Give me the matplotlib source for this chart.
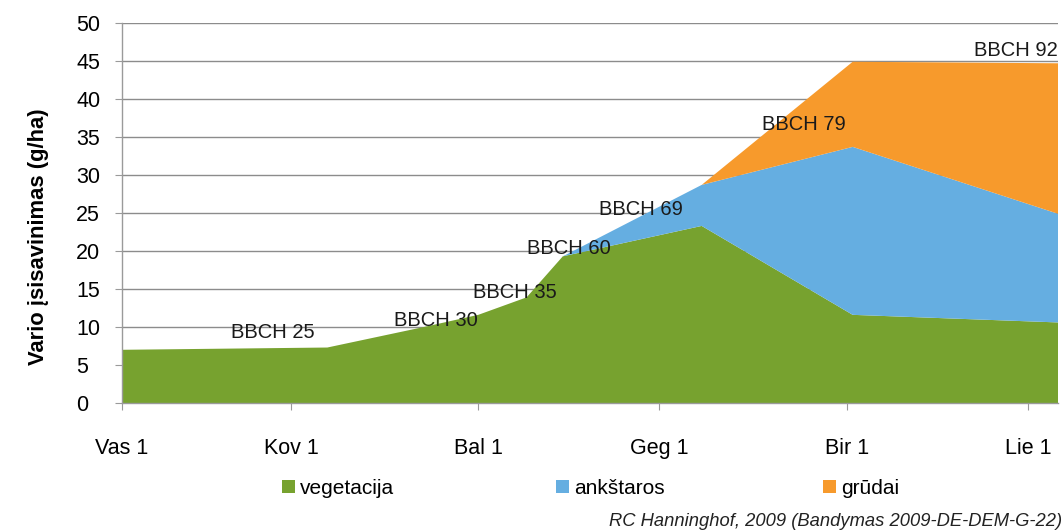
import matplotlib
matplotlib.use("Agg")
import matplotlib.pyplot as plt
import matplotlib.dates as mdates
import numpy as np
from matplotlib.patches import Patch

plt.rcParams["font.family"] = ["Liberation Sans", "DejaVu Sans"]

# data (g/ha, per stage, stacked)
dates = np.array(["2009-02-01", "2009-03-07", "2009-03-23", "2009-04-01", "2009-04-09",
                  "2009-04-15", "2009-05-08", "2009-06-02", "2009-07-06"], dtype="datetime64[D]")
vegetacija = [7.0, 7.3, 10.0, 11.6, 13.9, 19.3, 23.3, 11.6, 10.6]
ankstaros = [0, 0, 0, 0, 0, 0, 5.4, 22.1, 14.3]
grudai = [0, 0, 0, 0, 0, 0, 0, 11.2, 19.8]
series_names = ["vegetacija", "ankštaros", "grūdai"]
colors = ["#77A22F", "#65AEE1", "#F79A2C"]

tick_dates = np.array(["2009-02-01", "2009-03-01", "2009-04-01", "2009-05-01",
                       "2009-06-01", "2009-07-01"], dtype="datetime64[D]")
tick_labels = ["Vas 1", "Kov 1", "Bal 1", "Geg 1", "Bir 1", "Lie 1"]

bbch_labels = ["BBCH 25", "BBCH 30", "BBCH 35", "BBCH 60", "BBCH 69", "BBCH 79", "BBCH 92"]
bbch_dates = np.array(["2009-02-26", "2009-03-25", "2009-04-07", "2009-04-16",
                       "2009-04-28", "2009-05-25", "2009-06-29"], dtype="datetime64[D]")
bbch_values = [9.3, 10.9, 14.6, 20.3, 25.4, 36.7, 46.4]

fig = plt.figure(figsize=(10.64, 5.32), dpi=100)
ax = fig.add_axes([122 / 1064, 1 - 403 / 532, (1058 - 122) / 1064, 380 / 532])

x = mdates.date2num(dates)
ax.stackplot(x, vegetacija, ankstaros, grudai, colors=colors, linewidth=0, zorder=2)

ax.set_xlim(x[0], x[-1])
ax.set_ylim(0, 50)
ax.set_yticks(np.arange(0, 51, 5))
ax.set_xticks(mdates.date2num(tick_dates))
ax.set_xticklabels(tick_labels)

ax.grid(axis="y", color="#8c8c8c", linewidth=1.0, zorder=0)
ax.set_axisbelow(True)
for side in ["top", "right"]:
    ax.spines[side].set_visible(False)
for side in ["left", "bottom"]:
    ax.spines[side].set_color("#9a9a9a")
    ax.spines[side].set_linewidth(1.0)

ax.tick_params(axis="y", length=5, color="#9a9a9a", pad=28, labelsize=15.5)
ax.tick_params(axis="x", length=5, color="#9a9a9a", pad=20, labelsize=15.5)
for lab in ax.get_yticklabels():
    lab.set_horizontalalignment("left")

ax.set_ylabel("Vario įsisavinimas (g/ha)", fontsize=15.8, fontweight="bold")
ax.yaxis.set_label_coords(-0.078, 0.437)

for text, d, v in zip(bbch_labels, bbch_dates, bbch_values):
    ax.text(mdates.date2num(d), v, text, fontsize=14.5, ha="center", va="center",
            color="#1a1a1a", zorder=5)

# legend entries spread evenly as in the original
legend_x = [282 / 1064, 556 / 1064, 823 / 1064]
for name, col, lx in zip(series_names, colors, legend_x):
    fig.legend(handles=[Patch(facecolor=col, edgecolor="none")], labels=[name],
               loc="center left", bbox_to_anchor=(lx, 1 - 488 / 532), frameon=False,
               fontsize=15, handlelength=0.6, handleheight=0.6, handletextpad=0.25,
               borderaxespad=0, borderpad=0)

fig.text(1062 / 1064, 1 - 521 / 532, "RC Hanninghof, 2009 (Bandymas 2009-DE-DEM-G-22)",
         fontsize=13.2, style="italic", ha="right", va="center", color="#222222")

fig.savefig("out.png", dpi=100)
